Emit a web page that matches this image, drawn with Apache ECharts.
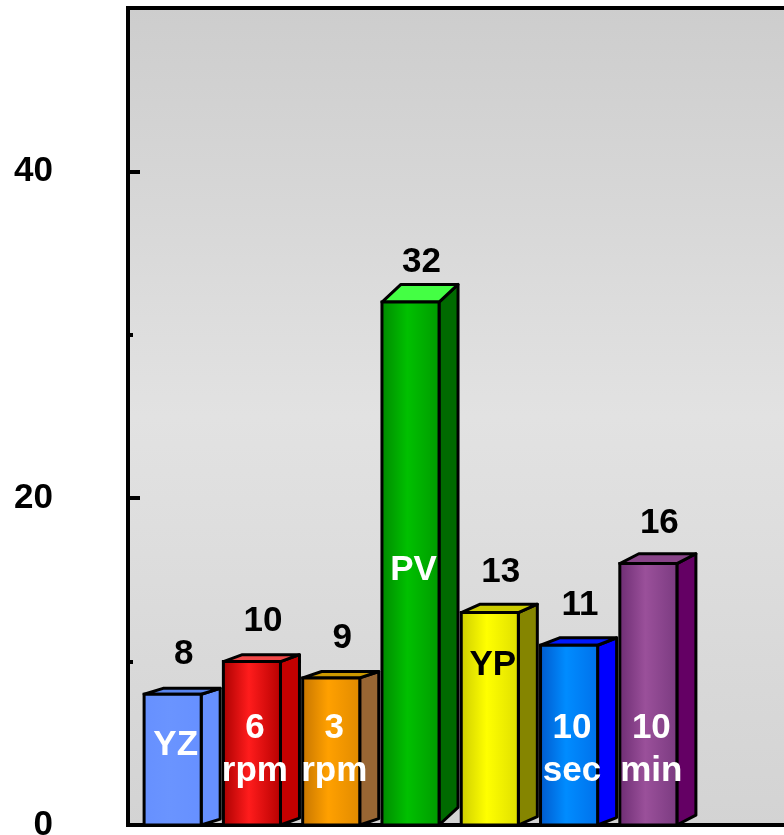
<!DOCTYPE html>
<html>
<head>
<meta charset="utf-8">
<script src="https://cdn.jsdelivr.net/npm/echarts@6/dist/echarts.min.js"></script>
<style>
html,body{margin:0;padding:0;background:#fff;}
#chart{width:784px;height:835px;}
</style>
</head>
<body>
<div id="chart"></div>
<script>
// ---- data ----
const categories = ['YZ', '6\nrpm', '3\nrpm', 'PV', 'YP', '10\nsec', '10\nmin'];
const values = [8, 10, 9, 32, 13, 11, 16];
const yTickLabels = [0, 20, 40];

// ---- styles (not data) ----
const FONT = "'Liberation Sans', Arial, sans-serif";
const innerLabelPos = [4.9, 4.6, 4.6, 15.6, 9.8, 4.6, 4.6]; // vertical placement (axis units)
const innerLabelColor = ['#fff', '#fff', '#fff', '#fff', '#000', '#fff', '#fff'];
const barStyles = [
  { front: ['#6690ff', '#6a94ff', '#6690ff'], side: '#6690ff', top: '#5a86f0' },
  { front: ['#a80000', '#ff1c1c', '#b40000'], side: '#c40000', top: '#f04848' },
  { front: ['#c47400', '#ffa000', '#e08a00'], side: '#996633', top: '#cc9900' },
  { front: ['#008800', '#00c000', '#009a00'], side: '#006a00', top: '#44ff44' },
  { front: ['#cccc00', '#ffff00', '#dede00'], side: '#858500', top: '#cccc00' },
  { front: ['#0058cc', '#008cff', '#0070ea'], side: '#0000ff', top: '#0018ff' },
  { front: ['#6c2c72', '#9a509a', '#7a3a80'], side: '#640064', top: '#884488' }
];

function grad(c) {
  return {
    type: 'linear', x: 0, y: 0, x2: 1, y2: 0,
    colorStops: [
      { offset: 0, color: c[0] },
      { offset: 0.45, color: c[1] },
      { offset: 1, color: c[2] }
    ]
  };
}

const chart = echarts.init(document.getElementById('chart'), null, { renderer: 'canvas' });

const option = {
  animation: false,
  backgroundColor: '#ffffff',
  grid: [
    {
      left: 128, top: 8, right: -40, bottom: 10,
      outerBoundsMode: 'none',
      containLabel: false,
      show: true,
      backgroundColor: {
        type: 'linear', x: 0, y: 0, x2: 0, y2: 1,
        colorStops: [
          { offset: 0, color: '#cdcdcd' },
          { offset: 0.5, color: '#e2e2e2' },
          { offset: 1, color: '#d3d3d3' }
        ]
      },
      borderColor: '#000', borderWidth: 4
    },
    { left: 133, top: 8, width: 555, bottom: 10, show: false, outerBoundsMode: 'none', containLabel: false }
  ],
  xAxis: [
    { gridIndex: 0, type: 'category', data: [''], show: false },
    { gridIndex: 1, type: 'category', data: categories, show: false }
  ],
  yAxis: [
    {
      gridIndex: 0, type: 'value', position: 'left', min: 0, max: 50, interval: 10,
      axisLine: { show: true, lineStyle: { color: '#000', width: 4 } },
      axisTick: { show: true, inside: true, length: 5, lineStyle: { color: '#000', width: 4 } },
      splitLine: { show: false },
      axisLabel: {
        margin: 75,
        fontFamily: FONT, fontSize: 35, fontWeight: 'bold', color: '#000',
        formatter: function (v) { return yTickLabels.indexOf(v) >= 0 ? String(v) : ''; }
      }
    },
    {
      gridIndex: 0, type: 'value', position: 'left', offset: 0, min: 0, max: 50, interval: 20,
      axisLine: { show: false },
      axisTick: { show: true, inside: true, length: 12, lineStyle: { color: '#000', width: 4 } },
      splitLine: { show: false },
      axisLabel: { show: false }
    },
    { gridIndex: 1, type: 'value', min: 0, max: 50, show: false }
  ],
  series: [
    {
      type: 'custom',
      xAxisIndex: 1,
      yAxisIndex: 2,
      clip: false,
      data: values.map(function (v, i) { return [i, v]; }),
      renderItem: function (params, api) {
        const i = api.value(0);
        const v = api.value(1);
        const p = api.coord([i, v]);
        const b = api.coord([i, 0]);
        const band = api.size([1, 0])[0];
        const w = band * 0.72;
        const cx = p[0];
        const left = cx - w / 2, right = cx + w / 2;
        const top = p[1], bottom = b[1];
        const h = bottom - top;
        const dx = 19;
        const dy = 2 + 0.03 * h;
        const st = barStyles[i];
        const lw = 3;
        const inner = api.coord([i, innerLabelPos[i]]);
        return {
          type: 'group',
          children: [
            {
              type: 'polygon',
              shape: { points: [[right, top], [right + dx, top - dy], [right + dx, bottom - dy], [right, bottom]] },
              style: { fill: st.side, stroke: '#000', lineWidth: lw, lineJoin: 'round' }
            },
            {
              type: 'polygon',
              shape: { points: [[left, top], [left + dx, top - dy], [right + dx, top - dy], [right, top]] },
              style: { fill: st.top, stroke: '#000', lineWidth: lw, lineJoin: 'round' }
            },
            {
              type: 'rect',
              shape: { x: left, y: top, width: w, height: h },
              style: { fill: grad(st.front), stroke: '#000', lineWidth: lw }
            },
            {
              type: 'text',
              style: {
                text: String(values[i]),
                x: cx + 11, y: top - 40,
                align: 'center', verticalAlign: 'middle',
                font: 'bold 35px ' + FONT, fill: '#000'
              }
            },
            {
              type: 'text',
              style: {
                text: categories[i],
                x: cx + 3, y: inner[1],
                align: 'center', verticalAlign: 'middle',
                font: 'bold 35px ' + FONT, lineHeight: 43,
                fill: innerLabelColor[i]
              }
            }
          ]
        };
      }
    }
  ]
};

chart.setOption(option);
</script>
</body>
</html>
